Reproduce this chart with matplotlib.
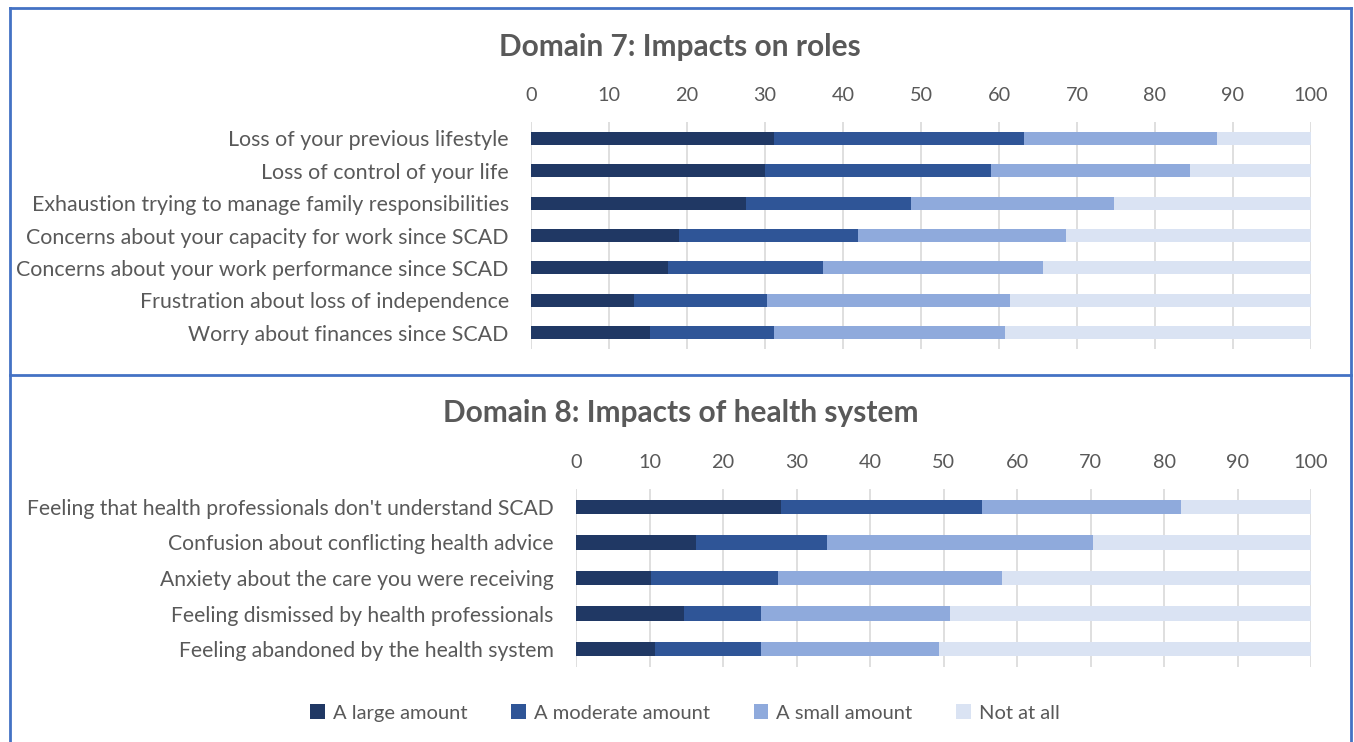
import numpy as np
import matplotlib.pyplot as plt
from matplotlib.lines import Line2D
from matplotlib.patches import Patch

plt.rcParams['font.family'] = ['Lato', 'DejaVu Sans']

# --- data -----------------------------------------------------------------
legend_labels = ["A large amount", "A moderate amount", "A small amount", "Not at all"]
colors = ["#203864", "#2F5597", "#8FAADC", "#DAE3F3"]

d7_title = "Domain 7: Impacts on roles"
d7_categories = [
    "Loss of your previous lifestyle",
    "Loss of control of your life",
    "Exhaustion trying to manage family responsibilities",
    "Concerns about your capacity for work since SCAD",
    "Concerns about your work performance since SCAD",
    "Frustration about loss of independence",
    "Worry about finances since SCAD",
]
d7_large = [31.1, 30.0, 27.6, 19.0, 17.6, 13.2, 15.3]
d7_moderate = [32.1, 29.0, 21.1, 22.9, 19.8, 17.1, 15.8]
d7_small = [24.8, 25.5, 26.0, 26.7, 28.3, 31.1, 29.7]
d7_none = [12.0, 15.5, 25.3, 31.4, 34.3, 38.6, 39.2]

d8_title = "Domain 8: Impacts of health system"
d8_categories = [
    "Feeling that health professionals don't understand SCAD",
    "Confusion about conflicting health advice",
    "Anxiety about the care you were receiving",
    "Feeling dismissed by health professionals",
    "Feeling abandoned by the health system",
]
d8_large = [27.9, 16.3, 10.2, 14.7, 10.8]
d8_moderate = [27.4, 17.8, 17.3, 10.5, 14.4]
d8_small = [27.0, 36.2, 30.5, 25.7, 24.2]
d8_none = [17.7, 29.7, 42.0, 49.1, 50.6]

TEXT = "#595959"
GRID = "#D9D9D9"
FRAME = "#4472C4"

W, H = 1354, 742
fig = plt.figure(figsize=(W / 100, H / 100), dpi=100)


def px_axes(x0, y0, x1, y1):
    """Add axes from pixel box (top-left origin)."""
    return fig.add_axes([x0 / W, 1 - y1 / H, (x1 - x0) / W, (y1 - y0) / H])


def draw_panel(ax, categories, series, bar_h, label_size):
    y = np.arange(len(categories))
    left = np.zeros(len(categories))
    for vals, c in zip(series, colors):
        ax.barh(y, vals, left=left, height=bar_h, color=c, zorder=2)
        left += np.array(vals)
    ax.set_xlim(0, 100)
    ax.set_ylim(len(categories) - 0.5, -0.5)
    ax.set_xticks(np.arange(0, 101, 10))
    ax.xaxis.tick_top()
    ax.set_yticks(y)
    ax.set_yticklabels(categories)
    ax.tick_params(axis='x', length=0, pad=13, labelsize=14.3, colors=TEXT)
    ax.tick_params(axis='y', length=0, pad=16, labelsize=label_size, colors=TEXT)
    ax.grid(axis='x', color=GRID, linewidth=1.2, zorder=0)
    for s in ax.spines.values():
        s.set_visible(False)
    ax.set_facecolor('none')


ax1 = px_axes(531, 122, 1311, 349)
draw_panel(ax1, d7_categories, [d7_large, d7_moderate, d7_small, d7_none], 0.4, 15.4)

ax2 = px_axes(576, 489, 1311, 667)
draw_panel(ax2, d8_categories, [d8_large, d8_moderate, d8_small, d8_none], 0.4, 15.2)

fig.text(680 / W, 1 - 47 / H, d7_title, ha='center', va='center',
         fontsize=21.5, fontweight='bold', color=TEXT)
fig.text(681 / W, 1 - 413 / H, d8_title, ha='center', va='center',
         fontsize=21.5, fontweight='bold', color=TEXT)

handles = [Patch(facecolor=c, edgecolor='none') for c in colors]
fig.legend(handles, legend_labels, loc='center', bbox_to_anchor=(685 / W, 1 - 713 / H),
           ncol=4, frameon=False, fontsize=14.5, labelcolor=TEXT,
           handlelength=0.7, handleheight=0.7, handletextpad=0.4, columnspacing=2.2)

# blue frame around the two panels
for xs, ys in [([10, 10], [8, 742]), ([1351, 1351], [8, 742]),
               ([10, 1351], [8, 8]), ([10, 1351], [375, 375])]:
    fig.add_artist(Line2D([x / W for x in xs], [1 - v / H for v in ys],
                          color=FRAME, linewidth=2))

fig.savefig("out.png", dpi=100)
